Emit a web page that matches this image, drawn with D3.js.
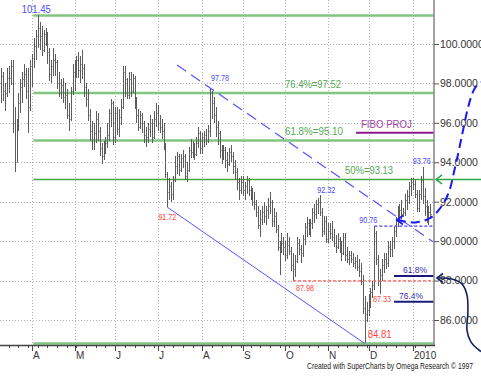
<!DOCTYPE html>
<html><head><meta charset="utf-8">
<script src="https://cdn.jsdelivr.net/npm/d3@7"></script>
<style>
html,body{margin:0;padding:0;background:#fff;}
svg{display:block;font-family:"Liberation Sans",Arial,sans-serif;}
</style></head><body>
<svg id="chart" width="481" height="378"></svg>
<script>
// ---------- DATA ----------
const firstDate = new Date(2009, 2, 10);
const lastDate  = new Date(2010, 0, 14);

const opens = [97.5,98.4,97.6,97.5,98.3,98.3,98.9,96.0,94.0,95.9,97.0,97.8,98.2,98.5,97.6,96.8,
98.9,99.3,99.9,100.4,100.8,100.4,99.7,100.5,100.2,99.6,98.5,98.9,99.2,99.1,98.0,97.5,97.9,97.3,97.4,96.4,96.2,97.6,
98.6,98.9,99.2,98.7,99.0,98.8,97.8,97.2,96.4,95.6,95.2,95.5,96.2,95.6,94.7,94.3,94.8,95.0,95.4,96.5,97.0,
95.3,96.5,95.7,96.3,96.8,98.6,98.2,97.4,98.2,97.6,98.3,97.1,96.4,95.8,96.4,96.0,95.4,95.3,95.7,96.0,95.3,96.2,
96.5,96.0,95.8,95.6,94.9,93.4,92.5,92.8,92.4,93.1,93.8,94.3,93.6,94.2,94.3,93.3,93.6,94.6,94.5,94.8,94.4,95.0,95.5,
94.7,95.3,95.4,95.1,95.6,97.5,97.0,96.4,95.8,95.5,94.6,94.3,94.6,94.1,93.9,94.5,94.3,93.8,93.5,93.0,92.6,
93.0,92.6,92.8,93.1,92.6,92.4,92.0,91.9,91.5,90.8,91.1,91.5,91.3,91.6,91.8,92.0,91.0,91.3,90.6,89.7,89.6,89.9,
89.7,89.3,89.8,89.5,88.8,88.6,89.0,89.9,89.6,89.4,90.1,90.7,90.9,90.6,90.9,91.5,91.4,91.9,92.0,91.5,90.5,91.0,
90.1,90.5,90.4,90.2,89.9,89.7,90.1,89.7,89.4,90.2,89.3,89.1,89.3,89.1,88.9,89.0,88.7,88.5,88.0,86.6,86.3,
86.5,86.9,87.4,87.8,90.4,89.1,88.0,88.3,88.8,89.1,88.9,89.7,89.6,90.0,90.5,91.0,91.5,91.6,91.4,91.5,92.1,92.3,92.8,
93.0,92.9,92.4,91.7,92.4,93.1,92.3,91.8,91.1,91.5];
const highs = [98.8,98.6,98.0,98.8,98.9,99.2,99.2,96.8,96.2,97.5,98.2,98.6,99.0,98.8,98.8,99.2,
99.5,100.3,100.7,101.45,101.1,100.9,100.7,100.8,100.6,99.8,99.2,99.8,99.5,99.2,98.6,98.2,98.3,98.0,97.7,97.0,97.8,99.0,
99.2,99.4,99.6,99.4,99.7,99.0,98.0,97.7,96.7,96.1,96.0,96.6,96.5,95.8,95.0,95.1,95.3,96.0,96.7,97.2,97.1,
96.8,96.8,96.7,97.2,98.9,98.9,98.3,98.6,98.6,98.5,98.4,97.3,96.7,96.6,96.5,96.1,95.8,96.0,96.4,96.2,96.6,97.0,
96.9,96.4,96.2,96.0,95.0,93.5,93.2,93.0,93.3,94.3,94.5,94.4,94.4,94.6,94.4,94.0,94.8,95.2,95.1,95.0,95.3,95.8,95.6,
95.5,95.6,95.7,95.9,97.78,97.6,97.3,96.8,96.1,95.6,94.9,94.9,94.8,94.5,94.7,94.9,94.5,94.1,93.7,93.2,93.3,
93.3,93.0,93.3,93.2,92.8,92.7,92.5,92.1,91.8,91.6,91.8,92.0,91.8,92.2,92.5,92.1,91.7,91.5,90.8,90.0,90.4,90.2,
90.0,90.4,90.2,89.7,89.4,89.3,90.2,90.1,89.8,90.3,90.9,91.2,91.1,91.1,91.7,91.9,92.1,92.2,92.32,91.7,91.3,91.3,
90.9,90.9,91.0,90.6,90.3,90.4,90.2,90.0,90.4,90.4,89.7,89.5,89.5,89.4,89.2,89.3,89.1,88.9,88.3,87.2,86.9,
87.3,87.6,88.0,90.76,90.5,89.3,88.6,89.1,89.4,89.4,90.0,90.0,90.2,90.7,91.2,91.8,91.9,92.1,91.7,92.4,92.6,93.0,93.2,
93.2,93.1,92.6,92.6,93.3,93.76,92.7,92.1,91.8,91.9];
const lows = [97.0,97.1,96.6,97.3,97.5,97.9,95.5,93.5,94.0,95.6,96.5,97.0,97.8,97.2,95.5,96.6,
97.8,98.8,99.2,99.8,99.7,99.4,99.6,99.9,99.0,98.1,98.0,98.4,98.4,97.7,97.3,97.2,97.0,96.7,96.2,95.6,96.1,97.4,
97.6,98.3,98.3,98.0,98.2,97.3,96.8,96.1,95.1,94.6,94.6,95.0,95.1,94.3,93.9,94.1,94.4,94.7,95.1,95.8,94.9,
95.0,95.4,95.3,95.9,96.7,97.3,97.2,97.2,97.3,97.5,96.7,96.0,95.6,95.7,95.5,95.0,94.8,95.0,95.3,95.0,95.2,95.8,
95.6,95.5,95.2,94.6,93.2,91.72,92.1,92.0,92.1,93.0,93.4,93.3,93.5,93.7,93.1,93.0,93.5,94.2,94.2,94.1,94.3,94.7,94.4,
94.4,94.8,94.9,95.0,95.3,96.2,96.0,95.3,94.9,94.2,93.9,94.1,93.7,93.5,93.8,94.0,93.4,93.1,92.6,92.1,92.4,
92.3,92.1,92.4,92.3,92.1,91.8,91.6,91.2,90.6,90.2,90.8,90.9,90.8,91.1,91.4,90.7,90.7,90.4,89.5,88.3,89.4,89.3,
89.0,89.1,89.3,88.5,87.98,88.2,88.9,89.3,88.9,89.2,89.8,90.2,90.3,90.2,90.6,90.9,91.1,91.4,91.3,90.2,90.3,89.9,
89.9,90.1,90.0,89.7,89.4,89.6,89.4,89.0,89.3,89.0,88.9,88.8,88.9,88.7,88.6,88.5,88.2,87.8,86.3,84.81,85.9,
86.2,86.6,87.1,87.5,88.8,87.7,87.33,88.0,88.4,88.6,88.7,89.2,89.2,89.6,90.2,90.7,91.0,91.1,91.2,91.3,91.6,91.9,92.3,
92.6,92.2,91.5,91.5,92.1,91.9,91.3,90.9,90.8,91.1];
const closes = [98.4,97.6,97.5,98.3,98.3,98.9,96.0,94.0,95.9,97.0,97.8,98.2,98.5,97.6,96.8,98.9,
99.3,99.9,100.4,100.8,100.4,99.7,100.5,100.2,99.6,98.5,98.9,99.2,99.1,98.0,97.5,97.9,97.3,97.4,96.4,96.2,97.6,98.6,
98.9,99.2,98.7,99.0,98.8,97.8,97.2,96.4,95.6,95.2,95.5,96.2,95.6,94.7,94.3,94.8,95.0,95.4,96.5,97.0,95.3,
96.5,95.7,96.3,96.8,98.6,98.2,97.4,98.2,97.6,98.3,97.1,96.4,95.8,96.4,96.0,95.4,95.3,95.7,96.0,95.3,96.2,96.5,
96.0,95.8,95.6,94.9,93.4,92.5,92.8,92.4,93.1,93.8,94.3,93.6,94.2,94.3,93.3,93.6,94.6,94.5,94.8,94.4,95.0,95.5,94.7,
95.3,95.4,95.1,95.6,97.5,97.0,96.4,95.8,95.5,94.6,94.3,94.6,94.1,93.9,94.5,94.3,93.8,93.5,93.0,92.6,93.0,
92.6,92.8,93.1,92.6,92.4,92.0,91.9,91.5,90.8,91.1,91.5,91.3,91.6,91.8,92.0,91.0,91.3,90.6,89.7,89.6,89.9,89.7,
89.3,89.8,89.5,88.8,88.6,89.0,89.9,89.6,89.4,90.1,90.7,90.9,90.6,90.9,91.5,91.4,91.9,92.0,91.5,90.5,91.0,90.1,
90.5,90.4,90.2,89.9,89.7,90.1,89.7,89.4,90.2,89.3,89.1,89.3,89.1,88.9,89.0,88.7,88.5,88.0,86.6,86.3,86.5,
86.9,87.4,87.8,90.4,89.1,88.0,88.3,88.8,89.1,88.9,89.7,89.6,90.0,90.5,91.0,91.5,91.6,91.4,91.5,92.1,92.3,92.8,93.0,
92.9,92.4,91.7,92.4,93.1,92.3,91.8,91.1,91.5,91.4];

const priceTicks  = [86, 88, 90, 92, 94, 96, 98, 100];
const monthLabels = ["A", "M", "J", "J", "A", "S", "O", "N", "D", "2010"];

// Fibonacci levels (swing high 101.45 -> low 84.81)
const fibLevels = [101.45, 97.52, 95.10, 84.81];
const fibMid = 93.13;
const fibTexts = [
  {text: "76.4%=97.52", value: 97.52},
  {text: "61.8%=95.10", value: 95.10},
  {text: "50%=93.13",   value: 93.13}
];
const fibStartIndex = 16.7;

// swing labels: bar index, price
const swingLabels = [
  {i: 19,  v: 101.45, text: "101.45"},
  {i: 108, v: 97.78,  text: "97.78"},
  {i: 86,  v: 91.72,  text: "91.72"},
  {i: 165, v: 92.32,  text: "92.32"},
  {i: 151, v: 87.98,  text: "87.98"},
  {i: 188, v: 84.81,  text: "84.81"},
  {i: 196, v: 87.33,  text: "87.33"},
  {i: 193, v: 90.76,  text: "90.76"},
  {i: 218, v: 93.76,  text: "93.76"}
];

// channel anchors
const channelLow1 = {i: 86, v: 91.72};
const channelLow2 = {i: 188, v: 84.81};
const channelHigh = {i: 108, v: 97.78};
const channelHighStart = 91;

// retracement of 84.81 -> 93.76
const retrace = [{text: "61.8%", value: 88.23}, {text: "76.4%", value: 86.92}];
const retraceStart = 203.2;
const fiboProj = {text: "FIBO PROJ", value: 95.5, start: 183.5};

// annotation curves in (bar index, price)
const blueCurve = [[204.7,91.07],[214.5,90.95],[221.8,91.17],[225.9,91.53],[229.5,92.04],[232.1,92.64],
  [234.2,93.51],[236.2,94.37],[238.8,95.59],[241.4,96.75],[244.0,97.57],[246.6,97.97],[248.1,98.07]];
const navyCurve = [[225.4,88.13],[233.1,88.08],[238.3,87.83],[240.9,87.27],[241.4,86.41],[240.9,85.49],
  [243.0,84.88],[248.1,84.40]];

// ---------- LAYOUT ----------
const W = 481, H = 378, plotR = 434, plotB = 345;
const svg = d3.select("#chart");
svg.append("rect").attr("width", W).attr("height", H).attr("fill", "#fff");

const dates = d3.timeDay.range(firstDate, d3.timeDay.offset(lastDate, 1))
  .filter(d => d.getDay() !== 0 && d.getDay() !== 6);
const bars = dates.map((d, i) => ({d, i, o: opens[i], h: highs[i], l: lows[i], c: closes[i]}))
  .filter(b => b.h !== undefined);

const x = d3.scaleLinear().domain([16, 213]).range([32, 413]);
const y = d3.scaleLinear().domain([86, 100]).range([320, 44]);

// month starts
const monthStarts = [];
dates.forEach((d, i) => { if (i > 0 && d.getMonth() !== dates[i-1].getMonth()) monthStarts.push(i); });
const mondays = [];
dates.forEach((d, i) => { if (d.getDay() === 1) mondays.push(i); });

// grid
const grid = svg.append("g").attr("stroke", "#b4b4b4").attr("stroke-dasharray", "1,2").attr("stroke-width", 1);
priceTicks.forEach(p => grid.append("line").attr("x1", 0).attr("x2", plotR)
  .attr("y1", Math.round(y(p)) + 0.5).attr("y2", Math.round(y(p)) + 0.5));
monthStarts.forEach(i => grid.append("line").attr("y1", 0).attr("y2", plotB)
  .attr("x1", Math.round(x(i)) + 0.5).attr("x2", Math.round(x(i)) + 0.5));

// fib lines
const fibG = svg.append("g");
fibLevels.forEach(v => fibG.append("line").attr("x1", x(fibStartIndex)).attr("x2", plotR)
  .attr("y1", y(v)).attr("y2", y(v)).attr("stroke", "#80c580").attr("stroke-width", 2.5));
fibG.append("line").attr("x1", x(fibStartIndex)).attr("x2", plotR)
  .attr("y1", y(fibMid)).attr("y2", y(fibMid)).attr("stroke", "#45a845").attr("stroke-width", 1.5);

// bars
const barG = svg.append("g").attr("shape-rendering", "crispEdges");
bars.forEach(b => {
  const bx = Math.round(x(b.i)) + 0.5;
  barG.append("line").attr("x1", bx - 1).attr("x2", bx).attr("y1", Math.round(y(b.o)) + 0.5).attr("y2", Math.round(y(b.o)) + 0.5)
    .attr("stroke", "#a6a6a6");
  barG.append("line").attr("x1", bx).attr("x2", bx + 1).attr("y1", Math.round(y(b.c)) + 0.5).attr("y2", Math.round(y(b.c)) + 0.5)
    .attr("stroke", "#a6a6a6");
  barG.append("line").attr("x1", bx).attr("x2", bx).attr("y1", y(b.h)).attr("y2", y(b.l))
    .attr("stroke", "#5c5c5c").attr("stroke-width", 1);
});

// channel lines
const slope = (channelLow2.v - channelLow1.v) / (channelLow2.i - channelLow1.i);
svg.append("line").attr("x1", x(channelLow1.i)).attr("y1", y(channelLow1.v))
  .attr("x2", x(channelLow2.i)).attr("y2", y(channelLow2.v))
  .attr("stroke", "#5555ff").attr("stroke-width", 1);
const endI = x.invert(plotR - 1);
svg.append("line").attr("x1", x(channelHighStart)).attr("y1", y(channelHigh.v + slope * (channelHighStart - channelHigh.i)))
  .attr("x2", x(endI)).attr("y2", y(channelHigh.v + slope * (endI - channelHigh.i)))
  .attr("stroke", "#5555ff").attr("stroke-width", 1.2).attr("stroke-dasharray", "11,6");

// swing level dotted lines
svg.append("line").attr("x1", x(151)).attr("x2", plotR).attr("y1", y(87.98)).attr("y2", y(87.98))
  .attr("stroke", "#ff5555").attr("stroke-width", 1.2).attr("stroke-dasharray", "3,2");
svg.append("line").attr("x1", x(193)).attr("x2", plotR).attr("y1", y(90.76)).attr("y2", y(90.76))
  .attr("stroke", "#4040ff").attr("stroke-width", 1.2).attr("stroke-dasharray", "3,2");

// retracement lines
retrace.forEach((r, k) => {
  svg.append("line").attr("x1", x(retraceStart)).attr("x2", plotR).attr("y1", y(r.value)).attr("y2", y(r.value))
    .attr("stroke", "#1a1a7a").attr("stroke-width", 2);
  svg.append("text").attr("x", x(retraceStart) + (k === 0 ? 9 : 5)).attr("y", y(r.value) - 3)
    .attr("font-size", 8.5).attr("fill", "#3030b0").text(r.text);
});

// FIBO PROJ
svg.append("line").attr("x1", x(fiboProj.start)).attr("x2", plotR).attr("y1", y(fiboProj.value)).attr("y2", y(fiboProj.value))
  .attr("stroke", "#8a1a8a").attr("stroke-width", 2);
svg.append("text").attr("x", x(fiboProj.start) + 5).attr("y", y(fiboProj.value) - 4.5)
  .attr("font-size", 11).attr("fill", "#a040a8").attr("textLength", 51).attr("lengthAdjust", "spacingAndGlyphs")
  .text(fiboProj.text);

// fib texts
const fibTextPos = {"76.4%=97.52": [285, -5, 56], "61.8%=95.10": [285, -6, 58], "50%=93.13": [345, -5, 48]};
fibTexts.forEach(f => {
  const p = fibTextPos[f.text];
  svg.append("text").attr("x", p[0]).attr("y", y(f.value) + p[1]).attr("font-size", 11)
    .attr("fill", "#55a855").attr("textLength", p[2]).attr("lengthAdjust", "spacingAndGlyphs").text(f.text);
});

// swing labels
const labelStyle = {
  "101.45": {dx: -16, dy: -2.5, size: 11.5, len: 29, color: "#4a4aff"},
  "97.78":  {dx: 1,   dy: -7,   size: 8.5, len: 18, color: "#4a4aff"},
  "91.72":  {dx: -9,  dy: 13,   size: 8.5, len: 18, color: "#ff4444"},
  "92.32":  {dx: -3,  dy: -2.5, size: 8.5, len: 18, color: "#4a4aff"},
  "87.98":  {dx: 3,   dy: 10,   size: 8.5, len: 18, color: "#ff4444"},
  "84.81":  {dx: 3,   dy: -5.5, size: 11.5, len: 24, color: "#ff4444"},
  "87.33":  {dx: -7,  dy: 8,    size: 8.5, len: 18, color: "#ff4444"},
  "90.76":  {dx: -15, dy: -3,   size: 8.5, len: 18, color: "#4a4aff"},
  "93.76":  {dx: -10, dy: -3,   size: 8.5, len: 18, color: "#4a4aff"}
};
swingLabels.forEach(s => {
  const st = labelStyle[s.text];
  svg.append("text").attr("x", x(s.i) + st.dx).attr("y", y(s.v) + st.dy).attr("font-size", st.size)
    .attr("fill", st.color).attr("textLength", st.len).attr("lengthAdjust", "spacingAndGlyphs").text(s.text);
});

// axes
svg.append("line").attr("x1", plotR).attr("x2", plotR).attr("y1", 0).attr("y2", plotB)
  .attr("stroke", "#8c8c8c").attr("stroke-width", 1.6);
svg.append("line").attr("x1", 0).attr("x2", plotR + 1).attr("y1", plotB + 0.5).attr("y2", plotB + 0.5)
  .attr("stroke", "#444").attr("stroke-width", 1.4);

const yAxis = d3.axisRight(y).tickValues(priceTicks).tickFormat(d3.format(".4f")).tickSize(5).tickPadding(1);
const yG = svg.append("g").attr("transform", `translate(${plotR},0)`).call(yAxis);
yG.select(".domain").remove();
yG.selectAll(".tick line").attr("stroke", "#555");
yG.selectAll(".tick text").attr("font-size", 10.5).attr("fill", "#333").attr("font-family", "Liberation Sans, Arial, sans-serif");

const xG = svg.append("g").attr("stroke", "#444").attr("shape-rendering", "crispEdges");
mondays.forEach(i => xG.append("line").attr("x1", Math.round(x(i)) + 0.5).attr("x2", Math.round(x(i)) + 0.5)
  .attr("y1", plotB).attr("y2", plotB + 3));
monthStarts.forEach(i => xG.append("line").attr("x1", Math.round(x(i)) + 0.5).attr("x2", Math.round(x(i)) + 0.5)
  .attr("y1", plotB).attr("y2", plotB + 6));
monthStarts.forEach((i, k) => svg.append("text").attr("x", Math.round(x(i)) + 1).attr("y", 358.5)
  .attr("font-size", 10).attr("fill", "#333").text(monthLabels[k]));

// annotation arrows
function arrowHead(tx, ty, color, w) {
  svg.append("path").attr("d", `M${tx + 6},${ty - 4.5}L${tx},${ty}L${tx + 6},${ty + 4.5}`)
    .attr("fill", "none").attr("stroke", color).attr("stroke-width", w);
}
const curve = d3.line().x(d => x(d[0])).y(d => y(d[1])).curve(d3.curveCatmullRom.alpha(0.5));
svg.append("path").attr("d", curve(blueCurve)).attr("fill", "none").attr("stroke", "#1a1aee")
  .attr("stroke-width", 2).attr("stroke-dasharray", "9,5");
arrowHead(x(blueCurve[0][0]), y(blueCurve[0][1]), "#1a1aee", 1.8);

svg.append("path").attr("d", curve(navyCurve)).attr("fill", "none").attr("stroke", "#14235e").attr("stroke-width", 1.6);
arrowHead(x(navyCurve[0][0]), y(navyCurve[0][1]), "#14235e", 1.6);

svg.append("line").attr("x1", plotR + 2).attr("x2", W).attr("y1", y(fibMid)).attr("y2", y(fibMid))
  .attr("stroke", "#2aa84a").attr("stroke-width", 1.5);
arrowHead(plotR + 2, y(fibMid), "#2aa84a", 1.5);

// credit
svg.append("text").attr("x", 307).attr("y", 368.5).attr("font-size", 8.5).attr("fill", "#222")
  .attr("textLength", 166).attr("lengthAdjust", "spacingAndGlyphs")
  .text("Created with SuperCharts by Omega Research \u00A9 1997");
</script>
</body></html>
